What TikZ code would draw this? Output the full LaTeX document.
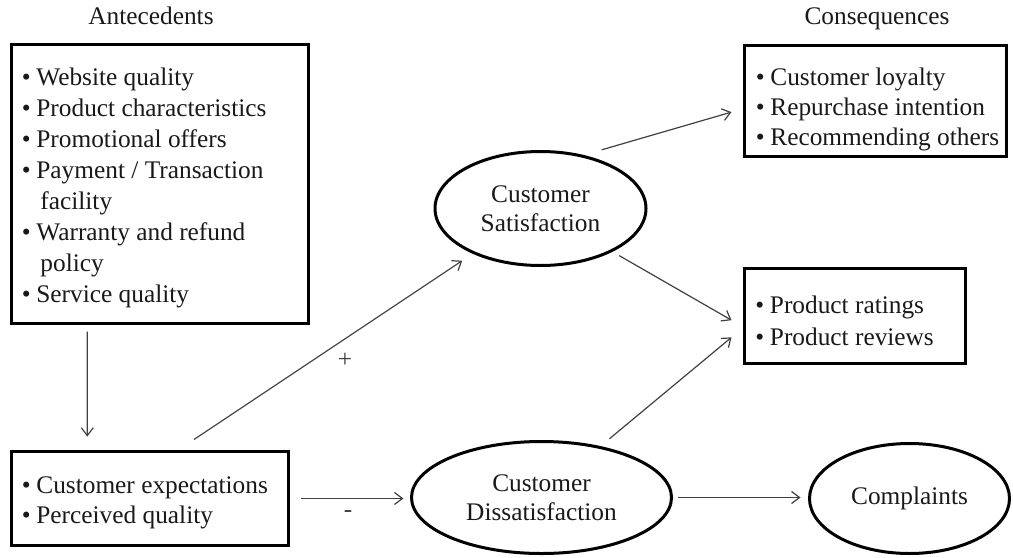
\documentclass[tikz,border=0pt]{standalone}
\usepackage{fontspec}
\setmainfont{Liberation Serif}
\usetikzlibrary{arrows.meta,calc,shapes.geometric}
\tikzset{
  box/.style={draw=black, line width=2.25pt, rectangle, inner sep=0pt},
  oval/.style={draw=black, line width=2.25pt, ellipse, inner sep=0pt, align=center,
    font=\fontsize{19}{21.75}\selectfont, text=black!90},
  lst/.style={inner sep=0pt, anchor=base west, text=black!90},
  ttl/.style={inner sep=0pt, anchor=base, font=\fontsize{19}{22}\selectfont, text=black!90},
  arr/.style={draw=black!75, line width=0.9pt, -{Straight Barb[length=6pt,width=9pt]}},
  sign/.style={inner sep=0pt, text=black!75, font=\fontsize{19}{22}\selectfont}
}
\begin{document}
\begin{tikzpicture}[x=0.75pt,y=-0.75pt]
\useasboundingbox (0,0) rectangle (1013,557);

% titles
\node[ttl] (tant) at (151,24) {Antecedents};
\node[ttl] (tcon) at (877,24) {Consequences};

% boxes
\node[box, minimum width=222.75pt, minimum height=208.9pt] (A) at (160,184.25) {};
\node[box, minimum width=207.75pt, minimum height=70.5pt] (B) at (150,498.5) {};
\node[box, minimum width=196.5pt, minimum height=83.25pt] (C) at (875.5,101) {};
\node[box, minimum width=165.75pt, minimum height=71.25pt] (D) at (855,316) {};

% box texts
\node[lst, font=\fontsize{19}{23.25}\selectfont] (Atext) at (21.5,85) {%
\begin{tabular}[t]{@{}p{11pt}@{}l@{}}
• & Website quality\\
• & Product characteristics\\
• & Promotional offers\\
• & Payment / Transaction\\
  & \hspace{3pt}facility\\
• & Warranty and refund\\
  & \hspace{3pt}policy\\
• & Service quality
\end{tabular}};
\node[lst, font=\fontsize{19}{22.5}\selectfont] (Btext) at (21.5,493) {%
\begin{tabular}[t]{@{}p{11pt}@{}l@{}}
• & Customer expectations\\
• & Perceived quality
\end{tabular}};
\node[lst, font=\fontsize{19}{22.5}\selectfont] (Ctext) at (755.5,85) {%
\begin{tabular}[t]{@{}p{11pt}@{}l@{}}
• & Customer loyalty\\
• & Repurchase intention\\
• & Recommending others
\end{tabular}};
\node[lst, font=\fontsize{19}{24}\selectfont] (Dtext) at (755,313) {%
\begin{tabular}[t]{@{}p{11pt}@{}l@{}}
• & Product ratings\\
• & Product reviews
\end{tabular}};

% ellipses
\node[oval, minimum width=158.25pt, minimum height=85.5pt] (Sat) at (540.5,208.5) {Customer\\Satisfaction};
\node[oval, minimum width=195pt, minimum height=84pt] (Dis) at (541.5,497.5) {Customer\\Dissatisfaction};
\node[oval, minimum width=150pt, minimum height=82.5pt] (Comp) at (909.5,498.5) {Complaints};

% connectors
\draw[arr, shorten <=4.9pt, shorten >=10pt]
  ($(A.south west)!0.2576!(A.south east)$) -- ($(B.north west)!0.276!(B.north east)$);
\draw[arr, shorten <=14.2pt, shorten >=9.4pt]
  ($(B.north west)!0.601!(B.north east)$) -- (Sat);
\draw[arr, shorten <=8.6pt, shorten >=4.9pt] (B.east) -- (B.east -| Dis.west);
\draw[arr, shorten <=13.9pt, shorten >=9pt]
  (Sat.51.4) -- ($(C.north west)!0.568!(C.south west)$);
\draw[arr, shorten <=5.8pt, shorten >=9.9pt]
  (Sat.-31.5) -- ($(D.north west)!0.61!(D.south west)$);
\draw[arr, shorten <=8.6pt, shorten >=11.2pt]
  (Dis.41.1) -- ($(D.north west)!0.62!(D.south west)$);
\draw[arr, shorten <=4pt, shorten >=5.6pt] (Dis.east) -- (Dis.east -| Comp.west);

% signs
\node[sign] (plus) at (345,360) {+};
\node[sign] (minus) at (348,514) {-};
\end{tikzpicture}
\end{document}
